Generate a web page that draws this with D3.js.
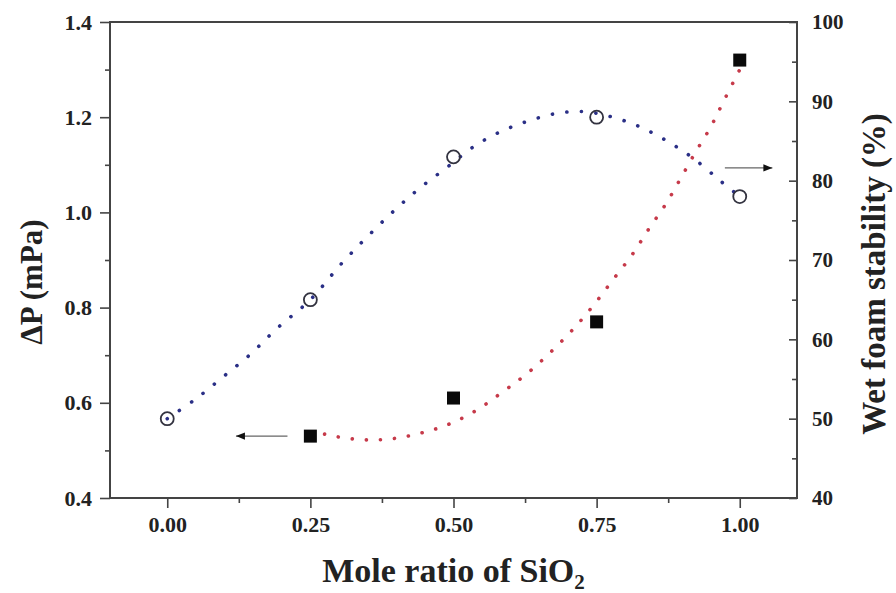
<!DOCTYPE html>
<html>
<head>
<meta charset="utf-8">
<script src="https://cdn.jsdelivr.net/npm/d3@7/dist/d3.min.js"></script>
<style>
  html, body { margin: 0; padding: 0; background: #fff; }
  svg { display: block; }
  text { font-family: "Liberation Serif", "Times New Roman", "DejaVu Serif", serif; font-weight: bold; fill: #222; }
</style>
</head>
<body>
<svg id="chart" width="896" height="593"></svg>
<script>
// ---- data ----
const moleRatio = [0.25, 0.5, 0.75, 1.0];
const deltaP = [0.53, 0.61, 0.77, 1.32];            // left axis, filled squares
const moleRatioFoam = [0, 0.25, 0.5, 0.75, 1.0];
const foamStability = [50.0, 65.0, 83.0, 88.0, 78.0]; // right axis, open circles

// fitted curves
const blueFitX = [0, 0.05, 0.098, 0.145, 0.192, 0.25, 0.305, 0.349, 0.396, 0.44, 0.489, 0.5375, 0.586, 0.634, 0.682, 0.729, 0.778, 0.825, 0.873, 0.921, 0.969, 1.0];
const blueFitY = [50.0, 52.5, 55.3, 58.1, 61.4, 65.0, 69.6, 72.9, 76.2, 79.0, 81.7, 84.4, 86.3, 87.6, 88.5, 88.7, 88.0, 86.8, 85.0, 82.7, 79.8, 78.0];
const redFitX = [0.25, 0.276, 0.30, 0.349, 0.396, 0.445, 0.492, 0.541, 0.586, 0.634, 0.703, 0.742, 0.777, 0.812, 0.841, 0.871, 0.897, 0.923, 0.949, 0.972, 1.0];
const redFitY = [0.536, 0.534, 0.528, 0.522, 0.525, 0.537, 0.555, 0.585, 0.623, 0.667, 0.747, 0.801, 0.856, 0.911, 0.965, 1.018, 1.072, 1.127, 1.179, 1.234, 1.30];

const xTicks = [0, 0.25, 0.5, 0.75, 1.0];
const xMinor = [0.125, 0.375, 0.625, 0.875];
const yLTicks = [0.4, 0.6, 0.8, 1.0, 1.2, 1.4];
const yLMinor = [0.5, 0.7, 0.9, 1.1, 1.3];
const yRTicks = [40, 50, 60, 70, 80, 90, 100];
const yRMinor = [45, 55, 65, 75, 85, 95];

// annotation arrows: [xStart, xEnd, yValue]
const leftArrow = [0.21, 0.12, 0.53];
const rightArrow = [0.974, 1.057, 81.6];

// ---- layout ----
const L = 110, R = 797, T = 22, B = 498;
const svg = d3.select("#chart");

const x = d3.scaleLinear().domain([-0.1, 1.1]).range([L, R]);
const yL = d3.scaleLinear().domain([0.4, 1.4]).range([B, T]);
const yR = d3.scaleLinear().domain([40, 100]).range([B, T]);

const axisColor = "#444";
const serif = "'Liberation Serif', 'Times New Roman', 'DejaVu Serif', serif";

// defs for arrowheads
const defs = svg.append("defs");
defs.append("marker").attr("id", "arrowhead")
  .attr("viewBox", "0 0 10 10").attr("refX", 10).attr("refY", 5)
  .attr("markerWidth", 12).attr("markerHeight", 9).attr("markerUnits", "userSpaceOnUse")
  .attr("orient", "auto")
  .append("path").attr("d", "M0,1 L10,5 L0,9 Z").attr("fill", "#111");

// ---- axes ----
function styleAxis(size) {
  return g => {
    g.select(".domain").remove();
    g.selectAll(".tick line").attr("stroke", axisColor).attr("stroke-width", 1.6);
    g.selectAll("text").attr("font-size", size).style("font-family", serif).style("font-weight", "bold").attr("fill", "#222");
  };
}

// bottom
svg.append("g").attr("transform", `translate(0,${B})`)
  .call(d3.axisBottom(x).tickValues(xTicks).tickSize(10).tickPadding(8).tickFormat(d3.format(".2f")))
  .call(styleAxis(22));
svg.append("g").attr("transform", `translate(0,${B})`)
  .call(d3.axisBottom(x).tickValues(xMinor).tickSize(5).tickFormat(""))
  .call(styleAxis(22));

// left
svg.append("g").attr("transform", `translate(${L},0)`)
  .call(d3.axisLeft(yL).tickValues(yLTicks).tickSize(10).tickPadding(8).tickFormat(d3.format(".1f")))
  .call(styleAxis(22));
svg.append("g").attr("transform", `translate(${L},0)`)
  .call(d3.axisLeft(yL).tickValues(yLMinor).tickSize(5).tickFormat(""))
  .call(styleAxis(22));

// right (ticks inward)
svg.append("g").attr("transform", `translate(${R},0)`)
  .call(d3.axisRight(yR).tickValues(yRTicks).tickSizeInner(-8).tickSizeOuter(0).tickPadding(15).tickFormat(d3.format("d")))
  .call(styleAxis(21));
svg.append("g").attr("transform", `translate(${R},0)`)
  .call(d3.axisRight(yR).tickValues(yRMinor).tickSizeInner(-5).tickSizeOuter(0).tickFormat(""))
  .call(styleAxis(21));

// frame
svg.append("rect").attr("x", L).attr("y", T).attr("width", R - L).attr("height", B - T)
  .attr("fill", "none").attr("stroke", axisColor).attr("stroke-width", 2);

// ---- fitted dotted curves ----
const blueLine = d3.line().x(d => x(d[0])).y(d => yR(d[1])).curve(d3.curveCatmullRom.alpha(0.5));
const redLine = d3.line().x(d => x(d[0])).y(d => yL(d[1])).curve(d3.curveCatmullRom.alpha(0.5));

svg.append("path").datum(blueFitX.map((v, i) => [v, blueFitY[i]]))
  .attr("d", blueLine).attr("fill", "none").attr("stroke", "#2a2f86")
  .attr("stroke-width", 3.6).attr("stroke-linecap", "round").attr("stroke-dasharray", "0.1 14.5");

svg.append("path").datum(redFitX.map((v, i) => [v, redFitY[i]]))
  .attr("d", redLine).attr("fill", "none").attr("stroke", "#c63a4a")
  .attr("stroke-width", 3.6).attr("stroke-linecap", "round").attr("stroke-dasharray", "0.1 14");

// ---- markers ----
const sq = 13;
svg.append("g").selectAll("rect").data(moleRatio.map((v, i) => [v, deltaP[i]]))
  .join("rect")
  .attr("x", d => x(d[0]) - sq / 2).attr("y", d => yL(d[1]) - sq / 2)
  .attr("width", sq).attr("height", sq).attr("fill", "#0a0a0a");

svg.append("g").selectAll("circle").data(moleRatioFoam.map((v, i) => [v, foamStability[i]]))
  .join("circle")
  .attr("cx", d => x(d[0])).attr("cy", d => yR(d[1])).attr("r", 6.5)
  .attr("fill", "none").attr("stroke", "#333340").attr("stroke-width", 1.8);

// ---- arrows ----
svg.append("line")
  .attr("x1", x(leftArrow[0])).attr("x2", x(leftArrow[1]))
  .attr("y1", yL(leftArrow[2])).attr("y2", yL(leftArrow[2]))
  .attr("stroke", "#666").attr("stroke-width", 1.3).attr("marker-end", "url(#arrowhead)");
svg.append("line")
  .attr("x1", x(rightArrow[0])).attr("x2", x(rightArrow[1]))
  .attr("y1", yR(rightArrow[2])).attr("y2", yR(rightArrow[2]))
  .attr("stroke", "#666").attr("stroke-width", 1.3).attr("marker-end", "url(#arrowhead)");

// ---- titles ----
const xt = svg.append("text").attr("x", (L + R) / 2).attr("y", 582)
  .attr("text-anchor", "middle").attr("font-size", 34);
xt.append("tspan").text("Mole ratio of SiO");
xt.append("tspan").attr("font-size", 21).attr("dy", 7).text("2");

svg.append("text").attr("transform", `translate(42,282) rotate(-90)`)
  .attr("text-anchor", "middle").attr("font-size", 31).text("ΔP (mPa)");

svg.append("text").attr("transform", `translate(885,274) rotate(-90)`)
  .attr("text-anchor", "middle").attr("font-size", 33).text("Wet foam stability (%)");
</script>
</body>
</html>
